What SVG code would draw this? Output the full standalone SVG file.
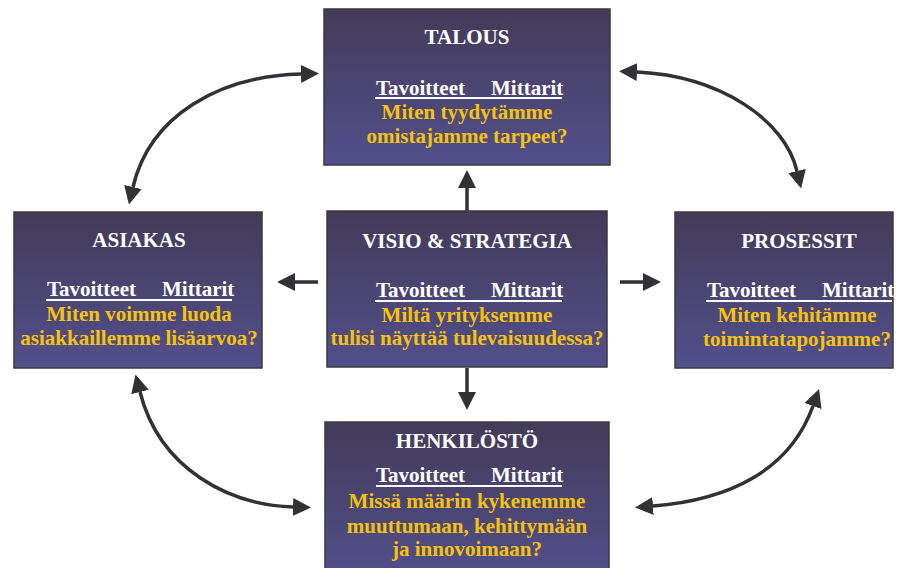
<svg xmlns="http://www.w3.org/2000/svg" width="906" height="568" viewBox="0 0 906 568">
<defs>
<linearGradient id="g" x1="0" y1="0" x2="0" y2="1">
<stop offset="0" stop-color="#433b58"/>
<stop offset="1" stop-color="#534f8c"/>
</linearGradient>
<marker id="ah" markerUnits="userSpaceOnUse" markerWidth="18" markerHeight="18" viewBox="0 0 16 16" refX="0" refY="8" orient="auto-start-reverse">
<path d="M0,0 L16,8 L0,16 z" fill="#313136"/>
</marker>
<style>
.box{fill:url(#g);stroke:#3a3a3a;stroke-width:1.5}
text{font-family:"Liberation Serif","Times New Roman",serif;font-weight:bold;font-size:21px}
.t{fill:#ffffff;text-anchor:middle}
.h{fill:#ffffff}
.q{fill:#f5c30c;text-anchor:middle}
.ul{stroke:#ffffff;stroke-width:2}
.c{fill:none;stroke:#313136;stroke-width:3.5;marker-start:url(#ah);marker-end:url(#ah)}
.s{fill:none;stroke:#313136;stroke-width:3.5;marker-end:url(#ah)}
</style>
</defs>
<rect width="906" height="568" fill="#ffffff"/>
<g id="connectors">
<path class="c" d="M301,74 C220,76 150,115 133,187"/>
<path class="c" d="M637,72 C720,76 785,120 797,171"/>
<path class="c" d="M140,392 C160,470 230,505 293,507"/>
<path class="c" d="M813,406 C790,470 730,500 653,506"/>
<path class="s" d="M467,211 L467,188"/>
<path class="s" d="M318,282 L295,282"/>
<path class="s" d="M620,282 L643,282"/>
<path class="s" d="M467,368 L467,392"/>
</g>
<g id="talous">
<rect class="box" x="324" y="9" width="286" height="156"/>
<text class="t" x="467" y="44">TALOUS</text>
<text class="h" x="465" y="95" text-anchor="end">Tavoitteet</text>
<text class="h" x="491" y="95">Mittarit</text>
<line class="ul" x1="375" y1="98" x2="562" y2="98"/>
<text class="q" x="467" y="119">Miten tyydytämme</text>
<text class="q" x="467" y="143">omistajamme tarpeet?</text>
</g>
<g id="asiakas">
<rect class="box" x="14" y="212" width="248" height="156"/>
<text class="t" x="139" y="247">ASIAKAS</text>
<text class="h" x="136" y="296" text-anchor="end">Tavoitteet</text>
<text class="h" x="162" y="296">Mittarit</text>
<line class="ul" x1="46" y1="300" x2="232" y2="300"/>
<text class="q" x="139" y="321">Miten voimme luoda</text>
<text class="q" x="139" y="345">asiakkaillemme lisäarvoa?</text>
</g>
<g id="visio">
<rect class="box" x="327" y="211" width="280" height="156"/>
<text class="t" x="467" y="248">VISIO &amp; STRATEGIA</text>
<text class="h" x="465" y="297" text-anchor="end">Tavoitteet</text>
<text class="h" x="491" y="297">Mittarit</text>
<line class="ul" x1="375" y1="301" x2="562" y2="301"/>
<text class="q" x="467" y="322">Miltä yrityksemme</text>
<text class="q" x="467" y="345">tulisi näyttää tulevaisuudessa?</text>
</g>
<g id="prosessit">
<rect class="box" x="675" y="212" width="218" height="156"/>
<text class="t" x="799" y="248">PROSESSIT</text>
<text class="h" x="796" y="297" text-anchor="end">Tavoitteet</text>
<text class="h" x="822" y="297">Mittarit</text>
<line class="ul" x1="706" y1="301" x2="892" y2="301"/>
<text class="q" x="797" y="322">Miten kehitämme</text>
<text class="q" x="797" y="346">toimintatapojamme?</text>
</g>
<g id="henkilosto">
<rect class="box" x="325" y="422" width="284" height="156"/>
<text class="t" x="467" y="448">HENKILÖSTÖ</text>
<text class="h" x="465" y="482" text-anchor="end">Tavoitteet</text>
<text class="h" x="491" y="482">Mittarit</text>
<line class="ul" x1="376" y1="486" x2="562" y2="486"/>
<text class="q" x="467" y="508">Missä määrin kykenemme</text>
<text class="q" x="467" y="533">muuttumaan, kehittymään</text>
<text class="q" x="467" y="556">ja innovoimaan?</text>
</g>
</svg>
